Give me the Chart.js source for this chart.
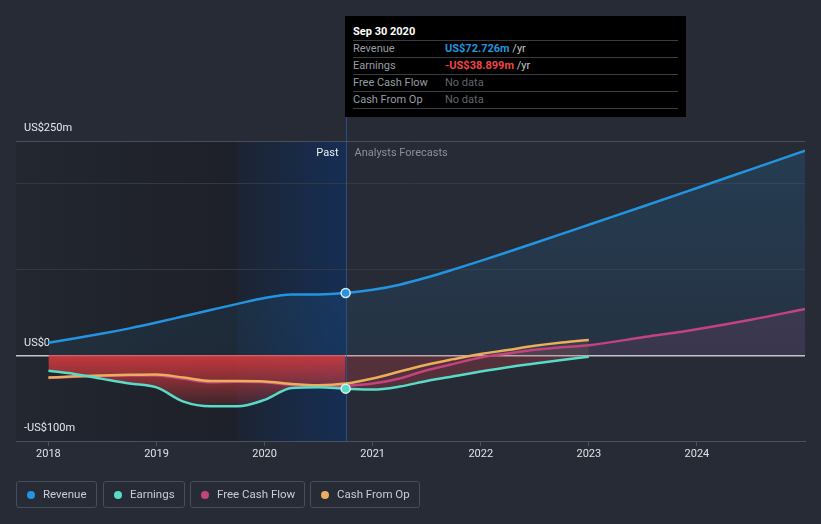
<!DOCTYPE html>
<html>
<head>
<meta charset="utf-8">
<script src="https://cdn.jsdelivr.net/npm/chart.js@4.4.1/dist/chart.umd.min.js"></script>
<style>
html,body{margin:0;padding:0;background:#262b36;width:821px;height:524px;overflow:hidden;font-family:Roboto,'Noto Sans',sans-serif;}
#wrap{position:relative;width:821px;height:524px;}
#c{position:absolute;left:0;top:0;}
.tip{position:absolute;left:345px;top:16px;width:341px;height:101px;background:#000;box-sizing:border-box;padding:7px 8px 0 8px;font-size:11px;}
.tip .t{color:#fff;font-weight:bold;line-height:17px;height:17px;}
.tip .r{border-top:1px solid #3a3d43;height:16px;line-height:16px;display:flex;white-space:nowrap;}
.tip .r.last{border-bottom:1px solid #3a3d43;}
.tip .l{width:92px;color:#989da5;}
.tip .rev{color:#2394df;font-weight:bold;}
.tip .ear{color:#f04646;font-weight:bold;}
.tip .u{color:#c4c7cc;}
.tip .nd{color:#62666e;}
.lg{position:absolute;top:481px;height:27px;box-sizing:border-box;border:1px solid #474d5a;border-radius:3px;color:#c9cdd4;font-size:11.5px;line-height:25px;padding-left:10px;white-space:nowrap;}
.lg i{display:inline-block;width:8px;height:8px;border-radius:50%;margin-right:8px;vertical-align:-0.5px;}
</style>
</head>
<body>
<div id="wrap">
<canvas id="c" width="821" height="524"></canvas>
<div class="tip">
  <div class="t" id="tipTitle"></div>
  <div class="r"><span class="l">Revenue</span><span><span class="rev">US$72.726m</span><span class="u"> /yr</span></span></div>
  <div class="r"><span class="l">Earnings</span><span><span class="ear">-US$38.899m</span><span class="u"> /yr</span></span></div>
  <div class="r"><span class="l">Free Cash Flow</span><span class="nd">No data</span></div>
  <div class="r last"><span class="l">Cash From Op</span><span class="nd">No data</span></div>
</div>
<div class="lg" style="left:16px;width:81px"><i style="background:#2394df"></i>Revenue</div>
<div class="lg" style="left:103px;width:82px"><i style="background:#58dcc8"></i>Earnings</div>
<div class="lg" style="left:190px;width:115px"><i style="background:#c2437f"></i>Free Cash Flow</div>
<div class="lg" style="left:310px;width:110px"><i style="background:#eaae5c"></i>Cash From Op</div>
</div>
<script>
// ---- data (US$ millions, x in decimal years) ----
const pastYears     = [2018, 2018.25, 2018.5, 2018.75, 2019, 2019.25, 2019.5, 2019.75, 2020, 2020.25, 2020.5, 2020.75];
const revenuePast   = [14.7, 19.8, 25.3, 31.4, 38.2, 45.5, 52.8, 60, 66.8, 70.8, 71.0, 72.726];
const earningsPast  = [-18, -22, -27.5, -33, -37.5, -54, -59.5, -59.5, -52, -38.2, -37.3, -38.899];
const fcfPast       = [-26.5, -25, -24, -23.5, -23.5, -27.5, -31.5, -31, -31.5, -34.5, -36.5, -35.7];
const cfoPast       = [-26, -24.5, -23.5, -22.8, -22.4, -26, -30, -30, -30.5, -33.5, -35, -33];

const forecastYears = [2020.75, 2021, 2021.25, 2021.5, 2021.75, 2022, 2022.25, 2022.5, 2022.75, 2023, 2023.5, 2024, 2024.5, 2025];
const revenueFc     = [72.726, 76.4, 82.4, 90.7, 100.2, 110.2, 120.5, 131, 141.6, 152.3, 173.6, 195.2, 216.9, 238.6];
const earningsFc    = [-38.899, -40, -36.5, -30, -24.5, -19, -14, -9.7, -5.5, -1.7, null, null, null, null];
const fcfFc         = [-35.7, -33, -27, -17.5, -10, -2.5, 2.2, 6.5, 9.5, 11.8, 21, 30.5, 41.5, 54];
const cfoFc         = [-33, -27, -19, -11, -4.5, 1.5, 6.2, 11, 14.8, 17.8, null, null, null, null];

const xTickYears  = [2018, 2019, 2020, 2021, 2022, 2023, 2024];
const yTickValues = [-100, 0, 100, 200, 250];
const yTickLabels = {'-100': '-US$100m', '0': 'US$0', '250': 'US$250m'};
const xMin = 2017.7, xMax = 2025.0;
const bandStart = 2019.75;   // start of highlighted year
const nowYear = 2020.75;     // Sep 30 2020
const tipTitle = 'Sep 30 2020';
document.getElementById('tipTitle').textContent = tipTitle;

const FONT = "Roboto, 'Noto Sans', sans-serif";
const C = {rev:'#2394df', ear:'#58dcc8', fcf:'#c2437f', cfo:'#eaae5c'};

const pts = (xs, ys) => xs.map((x, i) => ({x, y: ys[i]}));
const full = (pv, fv) => pts(pastYears, pv).concat(pts(forecastYears.slice(1), fv.slice(1)));

const hoverRadius = c => (c.raw && c.raw.x === nowYear) ? 4.5 : 0;

function vGrad(chart, v0, v1, stops) {
  const a = chart.chartArea; if (!a) return 'transparent';
  const y = chart.scales.y;
  const g = chart.ctx.createLinearGradient(0, y.getPixelForValue(v0), 0, y.getPixelForValue(v1));
  stops.forEach(s => g.addColorStop(s[0], s[1])); return g;
}

const lineBase = {borderWidth: 2.5, cubicInterpolationMode: 'monotone', pointRadius: 0, pointHoverRadius: 0, fill: false, spanGaps: false};

const datasets = [
  Object.assign({}, lineBase, {label: 'Revenue', data: full(revenuePast, revenueFc), borderColor: C.rev,
    pointRadius: hoverRadius, pointBackgroundColor: C.rev, pointBorderColor: '#dfe8f2', pointBorderWidth: 1.5,
    fill: 'origin', backgroundColor: c => vGrad(c.chart, 250, 0, [[0, 'rgba(35,148,223,0.17)'], [1, 'rgba(35,148,223,0.08)']]), order: 0}),
  Object.assign({}, lineBase, {label: 'Earnings', data: full(earningsPast, earningsFc), borderColor: C.ear,
    pointRadius: hoverRadius, pointBackgroundColor: C.ear, pointBorderColor: '#dff2ef', pointBorderWidth: 1.5, order: 1}),
  Object.assign({}, lineBase, {label: 'Cash From Op', data: full(cfoPast, cfoFc), borderColor: C.cfo,
    fill: {target: 'origin', above: 'rgba(234,174,92,0.10)', below: 'transparent'}, order: 2}),
  Object.assign({}, lineBase, {label: 'Free Cash Flow', data: full(fcfPast, fcfFc), borderColor: C.fcf,
    fill: {target: 'origin', above: 'rgba(194,67,127,0.15)', below: 'transparent'}, order: 3}),
  Object.assign({}, lineBase, {label: 'earnings-past-fill', data: pts(pastYears, earningsPast), borderWidth: 0, borderColor: 'transparent',
    fill: 'origin', backgroundColor: c => vGrad(c.chart, 0, -60, [[0, 'rgba(212,58,62,0.9)'], [0.4, 'rgba(212,58,62,0.62)'], [1, 'rgba(212,58,62,0.14)']]), order: 10}),
  Object.assign({}, lineBase, {label: 'earnings-fc-fill', data: pts(forecastYears, earningsFc), borderWidth: 0, borderColor: 'transparent',
    fill: 'origin', backgroundColor: 'rgba(200,60,70,0.28)', order: 11})
];

const bgPlugin = {
  id: 'bgRegions',
  beforeDraw(chart) {
    const {ctx, chartArea: a, scales: {x}} = chart;
    const xs = x.getPixelForValue(bandStart), xn = x.getPixelForValue(nowYear);
    ctx.save();
    let g = ctx.createLinearGradient(a.left, 0, xs, 0);
    g.addColorStop(0, 'rgb(35,39,48)'); g.addColorStop(1, 'rgb(29,32,40)');
    ctx.fillStyle = g; ctx.fillRect(a.left, a.top, xs - a.left, a.bottom - a.top);
    g = ctx.createLinearGradient(xs, 0, xn, 0);
    g.addColorStop(0, 'rgb(28,36,50)'); g.addColorStop(1, 'rgb(22,46,84)');
    ctx.fillStyle = g; ctx.fillRect(xs, a.top, xn - xs, a.bottom - a.top);
    ctx.restore();
  },
  beforeDatasetsDraw(chart) {
    const {ctx, chartArea: a, scales: {x}} = chart;
    const xn = Math.round(x.getPixelForValue(nowYear)) + 0.5;
    ctx.save();
    ctx.strokeStyle = 'rgba(45,90,160,0.75)'; ctx.lineWidth = 1;
    ctx.beginPath(); ctx.moveTo(xn, 117); ctx.lineTo(xn, a.bottom); ctx.stroke();
    ctx.font = '11px ' + FONT; ctx.textBaseline = 'middle';
    ctx.textAlign = 'right'; ctx.fillStyle = '#eceef2'; ctx.fillText('Past', xn - 8, a.top + 12.5);
    ctx.textAlign = 'left'; ctx.fillStyle = '#8b919b'; ctx.fillText('Analysts Forecasts', xn + 8, a.top + 12.5);
    ctx.restore();
  }
};

new Chart(document.getElementById('c'), {
  type: 'line',
  data: {datasets},
  options: {
    responsive: false, devicePixelRatio: 1, animation: false, events: [],
    layout: {padding: {top: 141, right: 16, left: 0, bottom: 0}},
    plugins: {legend: {display: false}, tooltip: {enabled: false}, filler: {drawTime: 'beforeDatasetsDraw'}},
    scales: {
      x: {
        type: 'linear', min: xMin, max: xMax,
        afterBuildTicks: s => { s.ticks = xTickYears.map(v => ({value: v})); },
        afterFit: s => { s.height = 83; },
        grid: {display: true, drawOnChartArea: false, drawTicks: true, tickLength: 5, color: '#4a505c'},
        border: {display: true, color: '#4a505c', width: 1},
        ticks: {color: '#dfe2e6', font: {family: FONT, size: 11}, padding: 2, maxRotation: 0, callback: v => String(v)}
      },
      y: {
        type: 'linear', min: -100, max: 250,
        afterBuildTicks: s => { s.ticks = yTickValues.map(v => ({value: v})); },
        afterFit: s => { s.width = 16; },
        grid: {drawTicks: false,
          color: c => { const v = c.tick.value; return v === 0 ? '#c3c6cc' : v === -100 ? 'transparent' : v === 250 ? '#484e5a' : '#323844'; },
          lineWidth: c => c.tick.value === 0 ? 1.5 : 1},
        border: {display: false},
        ticks: {mirror: true, padding: 8, labelOffset: -12.5, color: '#e6e8ec', font: {family: FONT, size: 11},
          callback: v => yTickLabels[String(v)] || ''}
      }
    }
  },
  plugins: [bgPlugin]
});
</script>
</body>
</html>
